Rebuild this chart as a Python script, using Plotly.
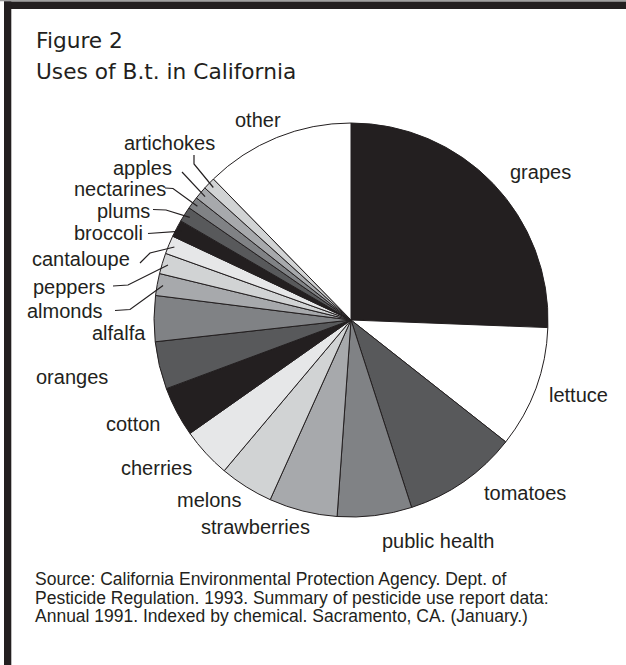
import math
import plotly.graph_objects as go

W, H = 626, 665

# ---- data (share of B.t. use, %) ----
crops = ["grapes", "lettuce", "tomatoes", "public health", "strawberries", "melons",
         "cherries", "cotton", "oranges", "alfalfa", "almonds", "peppers",
         "cantaloupe", "broccoli", "plums", "nectarines", "apples", "artichokes", "other"]
shares = [25.6, 10.0, 9.4, 6.1, 5.6, 4.4,
          4.1, 4.1, 3.9, 3.75, 1.8, 1.7,
          1.5, 1.4, 1.25, 1.0, 1.05, 1.0, 12.3]
fills = ["#231f20", "#ffffff", "#58595b", "#808285", "#a7a9ac", "#d1d3d4",
         "#e6e7e8", "#231f20", "#58595b", "#808285", "#a7a9ac", "#d1d3d4",
         "#e6e7e8", "#231f20", "#58595b", "#808285", "#a7a9ac", "#d1d3d4", "#ffffff"]

title_lines = ["Figure 2", "Uses of B.t. in California"]
source_lines = ["Source: California Environmental Protection Agency. Dept. of",
                "Pesticide Regulation. 1993. Summary of pesticide use report data:",
                "Annual 1991. Indexed by chemical. Sacramento, CA. (January.)"]

# ---- layout (pixel positions) ----
CX, CY, R = 351, 320, 197
INK = "#231f20"

def px(x):
    return x / W

def py(y):
    return 1 - y / H

# label placement: (x, y, xanchor)
label_pos = {
    "grapes": (508, 172, "left"),
    "lettuce": (547, 395, "left"),
    "tomatoes": (482, 493, "left"),
    "public health": (380, 541, "left"),
    "strawberries": (199, 527, "left"),
    "melons": (175, 500, "left"),
    "cherries": (194, 468, "right"),
    "cotton": (162, 424, "right"),
    "oranges": (110, 377, "right"),
    "alfalfa": (90, 333, "left"),
    "almonds": (105, 311, "right"),
    "peppers": (107, 287, "right"),
    "cantaloupe": (132, 259, "right"),
    "broccoli": (72, 233, "left"),
    "plums": (95, 211, "left"),
    "nectarines": (72, 189, "left"),
    "apples": (111, 168, "left"),
    "artichokes": (122, 143, "left"),
    "other": (233, 120, "left"),
}
# leader line start points (text side), then ends inside the slice
leader_start = {
    "artichokes": [(194, 155), (194, 164)],
    "apples": [(182, 172)],
    "nectarines": [(165, 188), (173, 188.5)],
    "plums": [(153, 209.5), (166, 210)],
    "broccoli": [(148, 233.5)],
    "cantaloupe": [(140, 263), (150, 253)],
    "peppers": [(113, 286), (128, 285)],
    "almonds": [(115, 310.5), (130, 309.5)],
}

fig = go.Figure()
fig.add_trace(go.Pie(
    labels=crops, values=shares, sort=False, direction="clockwise", rotation=0,
    marker=dict(colors=fills, line=dict(color=INK, width=1)),
    textinfo="none", hoverinfo="label+percent", showlegend=False,
    domain=dict(x=[px(CX - R), px(CX + R)], y=[py(CY + R), py(CY - R)]),
))

annotations = []
shapes = []

# frame
shapes.append(dict(type="rect", xref="paper", yref="paper", x0=px(0), x1=px(W), y0=py(0), y1=py(1.3),
                   fillcolor="#a0a0a0", line=dict(width=0), layer="above"))
shapes.append(dict(type="rect", xref="paper", yref="paper", x0=px(4), x1=px(W), y0=py(1.5), y1=py(9),
                   fillcolor=INK, line=dict(width=0), layer="above"))
shapes.append(dict(type="rect", xref="paper", yref="paper", x0=px(4), x1=px(11.3), y0=py(1.5), y1=py(H),
                   fillcolor=INK, line=dict(width=0), layer="above"))

# title
for txt, (x, y) in zip(title_lines, [(34, 40), (34, 72)]):
    annotations.append(dict(text=txt, x=px(x), y=py(y), xref="paper", yref="paper",
                            xanchor="left", yanchor="middle", showarrow=False,
                            font=dict(family="DejaVu Sans", size=21.7, color=INK)))

# source
for txt, y in zip(source_lines, [579, 597.5, 616]):
    annotations.append(dict(text=txt, x=px(33), y=py(y), xref="paper", yref="paper",
                            xanchor="left", yanchor="middle", showarrow=False,
                            font=dict(family="Liberation Sans, Arial", size=17.5, color=INK)))

# labels
total = sum(shares)
cum = 0.0
mid_angle = {}
for c, v in zip(crops, shares):
    mid_angle[c] = (cum + v / 2) / total * 2 * math.pi
    cum += v

for c in crops:
    x, y, xa = label_pos[c]
    annotations.append(dict(text=c, x=px(x), y=py(y), xref="paper", yref="paper",
                            xanchor=xa, yanchor="middle", showarrow=False,
                            font=dict(family="Liberation Sans, Arial", size=20, color=INK)))

for c, pts in leader_start.items():
    th = mid_angle[c]
    ex = CX + 0.97 * R * math.sin(th)
    ey = CY - 0.97 * R * math.cos(th)
    allp = pts + [(ex, ey)]
    path = "M " + " L ".join(f"{px(a):.5f},{py(b):.5f}" for a, b in allp)
    shapes.append(dict(type="path", path=path, xref="paper", yref="paper",
                       line=dict(color=INK, width=1.2), layer="above"))

fig.update_layout(
    width=W, height=H, margin=dict(l=0, r=0, t=0, b=0),
    paper_bgcolor="white", plot_bgcolor="white",
    annotations=annotations, shapes=shapes,
)

fig.write_html("out.html")
